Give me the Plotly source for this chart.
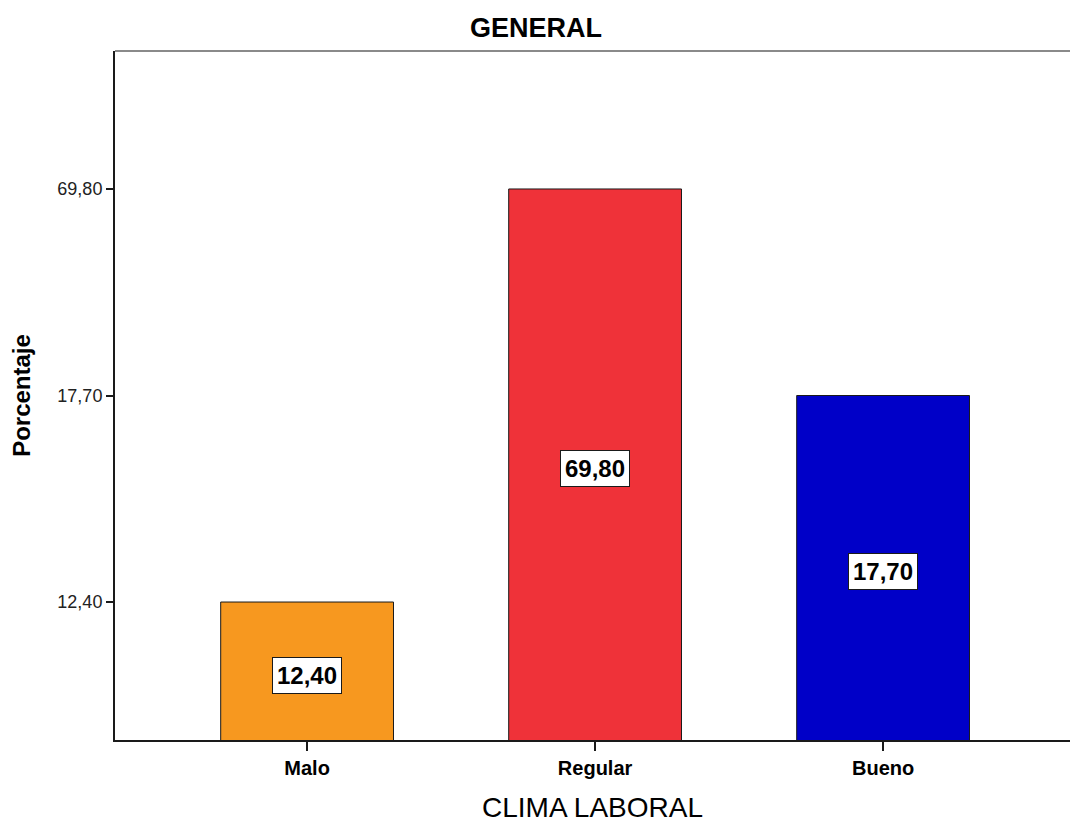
import plotly.graph_objects as go

# Clima laboral – distribución general (%)
categories = ["Malo", "Regular", "Bueno"]
percentages = [12.40, 69.80, 17.70]
bar_colors = ["#F7981F", "#EF3239", "#0000C8"]

chart_title = "GENERAL"
x_title = "CLIMA LABORAL"
y_title = "Porcentaje"


def fmt(v):
    return f"{v:.2f}".replace(".", ",")


# The value axis is ordinal: each distinct percentage gets its own evenly spaced level
levels = sorted(set(percentages))
rank = {v: i + 1 for i, v in enumerate(levels)}
bar_heights = [rank[v] for v in percentages]

y_lo = 1 - 0.668
y_hi = len(levels) + 0.668

font_family = "Arial, Liberation Sans, sans-serif"

fig = go.Figure(
    go.Bar(
        x=categories,
        y=bar_heights,
        width=0.6,
        marker=dict(color=bar_colors, line=dict(color="#1a1a1a", width=1)),
        hoverinfo="skip",
    )
)

# Value boxes centred in the visible part of each bar
for cat, v, h in zip(categories, percentages, bar_heights):
    fig.add_annotation(
        x=cat,
        y=(h + y_lo) / 2,
        yshift=-4,
        text=f"<b>{fmt(v)}</b>",
        showarrow=False,
        font=dict(family=font_family, size=24, color="black"),
        bgcolor="white",
        bordercolor="#1a1a1a",
        borderwidth=1,
        borderpad=4,
    )

# Grey top edge of the frame
fig.add_shape(
    type="line", xref="paper", yref="paper",
    x0=0, x1=1, y0=1, y1=1,
    line=dict(color="#8a8a8a", width=2),
)

fig.update_layout(
    width=1070,
    height=823,
    margin=dict(l=115, r=0, t=51, b=83),
    paper_bgcolor="white",
    plot_bgcolor="white",
    showlegend=False,
    title=dict(
        text=f"<b>{chart_title}</b>",
        x=0.501, xref="container", xanchor="center",
        y=0.967, yanchor="middle",
        font=dict(family=font_family, size=27, color="black"),
    ),
    font=dict(family=font_family, color="black"),
)

fig.update_xaxes(
    range=[-0.667, 2.649],
    showline=True, linecolor="#1a1a1a", linewidth=2,
    ticks="outside", ticklen=9, tickwidth=2, tickcolor="#1a1a1a",
    tickfont=dict(family=font_family, size=20, color="black"),
    tickprefix="<b>", ticksuffix="</b>",
    showgrid=False, zeroline=False,
    title=dict(text=x_title, font=dict(family=font_family, size=28, color="black"), standoff=20),
)

fig.update_yaxes(
    range=[y_lo, y_hi],
    tickvals=[rank[v] for v in levels],
    ticktext=[fmt(v) for v in levels],
    showline=True, linecolor="#1a1a1a", linewidth=2,
    ticks="outside", ticklen=7, tickwidth=2, tickcolor="#1a1a1a",
    tickfont=dict(family=font_family, size=18, color="#222222"),
    showgrid=False, zeroline=False,
    title=dict(text=f"<b>{y_title}</b>", font=dict(family=font_family, size=24, color="black"), standoff=20),
)

fig.write_html("out.html")
